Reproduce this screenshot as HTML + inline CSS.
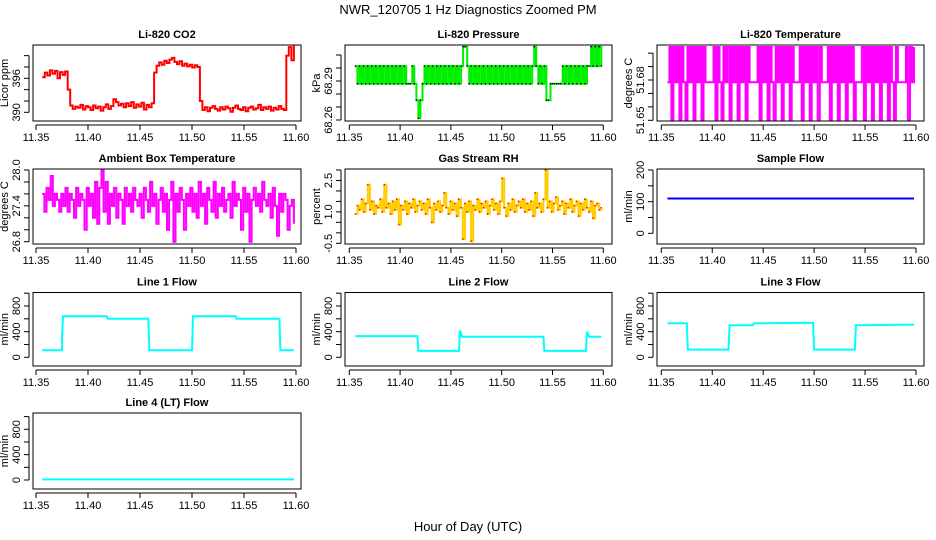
<!DOCTYPE html>
<html><head><meta charset="utf-8"><style>
body{margin:0;background:#fff;}
svg{display:block;font-family:"Liberation Sans",sans-serif;}
</style></head><body>
<svg id="chart" width="936" height="540" viewBox="0 0 936 540">
<rect width="936" height="540" fill="#fff"/>
<text x="468" y="14" text-anchor="middle" font-size="13">NWR_120705  1 Hz Diagnostics Zoomed PM</text>
<text x="468" y="531" text-anchor="middle" font-size="13">Hour of Day (UTC)</text>
</svg>
<script>
// ---- data ----
const tStart = 11.356, tEnd = 11.598;
const xTicks = [11.35, 11.40, 11.45, 11.50, 11.55, 11.60];
const xTickLabels = ["11.35","11.40","11.45","11.50","11.55","11.60"];
const co2Vals = [396.2,397.0,396.5,397.4,396.8,397.3,396.0,397.1,396.6,397.2,394,
391.2,390.6,391.0,390.8,391.3,390.5,391.1,390.9,390.4,391.2,390.7,391.0,390.3,390.9,391.4,390.6,391.1,392.3,391.8,391.2,391.5,390.9,391.6,391.1,391.8,390.8,391.4,391.0,391.7,390.5,391.3,390.9,391.6,
397,398.2,398.8,398.4,399.1,398.7,399.3,399.6,398.9,398.5,399.0,398.2,398.6,398.1,398.4,397.9,398.3,398.0,
392,390.4,390.9,390.2,390.8,391.1,390.6,390.3,390.9,390.5,391.0,390.7,390.1,390.8,391.2,390.6,390.4,390.9,390.2,390.8,391.0,390.5,390.7,391.3,390.4,390.9,390.6,391.0,390.3,390.8,390.5,391.1,390.6,390.4,
400,401.5,399.2,401.8];
const pressLevels = [68.2613, 68.2752, 68.2879, 68.3015, 68.3164];
const pressCodes = "32323232323232323232323232" + "2232" + "101" + "23232323232323232323" + "44" + "323232323232323232323232323232323" + "4" + "32323" + "11" + "22222" + "23232323232323" + "3434343";
const tempLevels = [51.6504, 51.6783, 51.7046];
const tempCodes = "1202120210212021202111120210212021202120211112021202102120212021112021202120211120212021202120111202120212021202102111120212";
const ambientVals = [27.6,27.3,27.7,27.5,27.9,27.4,27.6,27.5,27.3,27.6,27.4,27.7,27.3,27.6,27.5,27.2,27.7,27.4,27.6,27.5,27.0,27.7,27.4,27.6,27.2,27.8,27.1,27.7,28.0,27.3,27.8,27.1,27.6,27.4,27.7,27.2,27.6,27.5,27.1,27.7,27.4,27.6,27.3,27.7,27.5,27.4,27.6,27.2,27.7,27.5,27.3,27.8,27.4,27.6,27.1,27.5,27.7,27.3,27.6,27.0,27.5,27.8,26.8,27.6,27.3,27.7,27.5,27.0,27.6,27.4,27.7,27.3,27.6,27.2,27.8,27.4,27.6,27.1,27.7,27.5,27.3,27.8,27.2,27.6,27.4,27.7,27.3,27.5,27.6,27.2,27.8,27.4,27.6,27.5,27.0,27.7,27.3,27.6,26.8,27.5,27.7,27.4,27.6,27.3,27.8,27.5,27.4,27.6,27.2,27.7,27.4,26.9,27.6,27.3,27.6,27.5,27.0,27.4,27.5,27.1];
const rhVals = [0.9,1.3,1.1,1.6,1.0,1.4,2.3,1.1,1.5,0.9,1.3,1.2,1.6,1.0,2.3,1.2,1.4,0.9,1.5,1.1,1.6,0.4,1.3,1.1,1.5,0.9,1.4,1.2,1.6,1.0,1.3,1.5,1.1,1.4,0.9,1.6,1.2,0.5,1.4,1.1,1.5,1.0,1.3,1.9,1.2,0.9,1.5,1.1,1.4,0.8,1.6,1.2,-0.3,1.4,1.0,1.5,-0.4,1.3,1.1,1.6,1.0,1.4,1.2,1.5,0.9,1.3,1.6,1.1,1.4,0.9,1.5,2.6,1.2,0.8,1.4,1.1,1.6,1.0,1.3,1.5,1.2,1.6,1.0,1.4,1.1,1.5,0.8,1.9,1.2,1.4,1.0,1.6,3.0,1.2,1.5,1.0,1.4,1.7,1.1,1.3,1.5,0.9,1.4,1.2,1.6,1.0,1.3,1.5,0.8,1.4,1.1,1.6,1.2,1.0,1.5,0.7,1.3,1.4,1.1,1.2];
const sampleT = [11.356, 11.598];
const sampleV = [110, 110];
const line1T = [11.356,11.375,11.375,11.376,11.418,11.419,11.458,11.459,11.500,11.501,11.542,11.543,11.584,11.585,11.598];
const line1V = [110,110,280,640,640,600,600,110,110,640,640,600,600,110,110];
const line2T = [11.356,11.417,11.418,11.458,11.459,11.461,11.541,11.542,11.583,11.584,11.586,11.598];
const line2V = [330,330,100,100,420,320,320,100,100,400,320,320];
const line3T = [11.356,11.375,11.376,11.416,11.417,11.440,11.441,11.499,11.500,11.540,11.541,11.598];
const line3V = [530,530,120,120,500,500,530,540,120,120,500,510];
const line4T = [11.356, 11.598];
const line4V = [10, 10];

// ---- layout ----
const NS = "http://www.w3.org/2000/svg";
const svg = document.getElementById('chart');
const cols = [
  {bx0:33, bx1:301, tx0:36, tx1:296},
  {bx0:345, bx1:612, tx0:349.3, tx1:603.3},
  {bx0:657, bx1:924, tx0:661.3, tx1:916}
];
const rows = [{by0:45, by1:121},{by0:169, by1:244},{by0:292.5, by1:366},{by0:413, by1:489}];

function el(tag, attrs, parent){
  const e = document.createElementNS(NS, tag);
  for (const k in attrs) e.setAttribute(k, attrs[k]);
  (parent||svg).appendChild(e);
  return e;
}
function evenTimes(n){ const a=[]; for(let i=0;i<n;i++) a.push(tStart+(tEnd-tStart)*i/(n-1)); return a; }

function panel(cfg){
  const c = cols[cfg.col], r = rows[cfg.row];
  const g = el('g', {});
  
  
  const xs = v => c.tx0 + (v - 11.35) / 0.25 * (c.tx1 - c.tx0);
  const ys = v => cfg.py0 + (v - cfg.v0) / (cfg.v1 - cfg.v0) * (cfg.py1 - cfg.py0);
  // series
  let ptsArr = [];
  cfg.t.forEach((t,i)=>{
    const x = xs(t), y = ys(cfg.v[i]);
    if (cfg.step && i>0){ ptsArr.push(x.toFixed(1)+','+ys(cfg.v[i-1]).toFixed(1)); }
    ptsArr.push(x.toFixed(1)+','+y.toFixed(1));
  });
  const line = el('polyline', {points:ptsArr.join(' '), fill:'none', stroke:cfg.color, 'stroke-width':cfg.lw||2, 'stroke-linejoin':'miter'}, g);
  
  
  if (cfg.dots){
    cfg.t.forEach((t,i)=>{
      const d = el('rect', {x:(xs(t)-0.7).toFixed(1), y:(ys(cfg.v[i])-0.7).toFixed(1), width:1.4, height:1.4, fill:cfg.dots}, g);
      
      
    });
  }
  // box
  const box = el('rect', {x:c.bx0, y:r.by0, width:c.bx1-c.bx0, height:r.by1-r.by0, fill:'none', stroke:'#000', 'stroke-width':1}, g);
  
  
  // x axis
  const ax = el('line', {x1:xs(11.35), x2:xs(11.60), y1:r.by1+4, y2:r.by1+4, stroke:'#000'}, g);
  
  
  xTicks.forEach((tv,i)=>{
    el('line', {x1:xs(tv), x2:xs(tv), y1:r.by1+4, y2:r.by1+9, stroke:'#000'}, g);
    const tl = el('text', {x:xs(tv), y:r.by1+20, 'text-anchor':'middle', 'font-size':11}, g);
    tl.textContent = xTickLabels[i];
    
    
  });
  // y axis
  const yax = c.bx0 - 4;
  const ya = el('line', {x1:yax, x2:yax, y1:ys(cfg.yticks[0]), y2:ys(cfg.yticks[cfg.yticks.length-1]), stroke:'#000'}, g);
  
  
  cfg.yticks.forEach(tv=>{
    el('line', {x1:yax-5, x2:yax, y1:ys(tv), y2:ys(tv), stroke:'#000'}, g);
  });
  cfg.ylabels.forEach((lab,i)=>{
    const yy = ys(cfg.ylabelVals[i]);
    const tl = el('text', {x:0, y:0, 'text-anchor':'middle', 'font-size':11, transform:`translate(${yax-9},${yy}) rotate(-90)`}, g);
    tl.textContent = lab;
    
    
  });
  const yt = el('text', {x:0, y:0, 'text-anchor':'middle', 'font-size':11, transform:`translate(${yax-21},${(r.by0+r.by1)/2}) rotate(-90)`}, g);
  yt.textContent = cfg.ylab;
  
  
  const tt = el('text', {x:(c.bx0+c.bx1)/2, y:r.by0-7, 'text-anchor':'middle', 'font-size':11, 'font-weight':'bold'}, g);
  tt.textContent = cfg.title;
  
  
}

const flowTicks = [0,200,400,600,800,1000];
panel({name:'co2', col:0,row:0,title:'Li-820 CO2',ylab:'Licor ppm',color:'#ff0000',step:true,
  t:evenTimes(co2Vals.length), v:co2Vals, v0:390,py0:112.3,v1:396,py1:78.3,
  yticks:[390,392,394,396,398,400], ylabels:['390','396'], ylabelVals:[390,396]});
panel({name:'pressure', col:1,row:0,title:'Li-820 Pressure',ylab:'kPa',color:'#00ee00',dots:'#000',lw:2,step:true,
  t:evenTimes(pressCodes.length), v:pressCodes.split('').map(ch=>pressLevels[+ch]), v0:68.26,py0:120,v1:68.29,py1:81,
  yticks:[68.26,68.27,68.28,68.29,68.30,68.31], ylabels:['68.26','68.29'], ylabelVals:[68.26,68.29]});
panel({name:'temperature', col:2,row:0,title:'Li-820 Temperature',ylab:'degrees C',color:'#ff00ff',lw:2,step:true,
  t:evenTimes(tempCodes.length), v:tempCodes.split('').map(ch=>tempLevels[+ch]), v0:51.65,py0:120.3,v1:51.68,py1:80,
  yticks:[51.65,51.66,51.67,51.68,51.69,51.70], ylabels:['51.65','51.68'], ylabelVals:[51.65,51.68]});
panel({name:'ambient-temp', col:0,row:1,title:'Ambient Box Temperature',ylab:'degrees C',color:'#ff00ff',step:true,
  t:evenTimes(ambientVals.length), v:ambientVals, v0:26.8,py0:241.7,v1:28.0,py1:170,
  yticks:[26.8,27.0,27.2,27.4,27.6,27.8,28.0], ylabels:['26.8','27.4','28.0'], ylabelVals:[26.8,27.4,28.0]});
panel({name:'gas-rh', col:1,row:1,title:'Gas Stream RH',ylab:'percent',color:'#ffcc00',dots:'#ff0000',lw:2,step:true,
  t:evenTimes(rhVals.length), v:rhVals, v0:-0.5,py0:243.3,v1:3.0,py1:170,
  yticks:[-0.5,0,0.5,1.0,1.5,2.0,2.5,3.0], ylabels:['-0.5','1.0','2.5'], ylabelVals:[-0.5,1.0,2.5]});
panel({name:'sample-flow', col:2,row:1,title:'Sample Flow',ylab:'ml/min',color:'#0000ff',
  t:sampleT, v:sampleV, v0:0,py0:233.3,v1:200,py1:170,
  yticks:[0,50,100,150,200], ylabels:['0','100','200'], ylabelVals:[0,100,200]});
panel({name:'line1-flow', col:0,row:2,title:'Line 1 Flow',ylab:'ml/min',color:'#00ffff',
  t:line1T, v:line1V, v0:0,py0:357.3,v1:800,py1:306,
  yticks:flowTicks, ylabels:['0','400','800'], ylabelVals:[0,400,800]});
panel({name:'line2-flow', col:1,row:2,title:'Line 2 Flow',ylab:'ml/min',color:'#00ffff',
  t:line2T, v:line2V, v0:0,py0:357.3,v1:800,py1:306,
  yticks:flowTicks, ylabels:['0','400','800'], ylabelVals:[0,400,800]});
panel({name:'line3-flow', col:2,row:2,title:'Line 3 Flow',ylab:'ml/min',color:'#00ffff',
  t:line3T, v:line3V, v0:0,py0:357.3,v1:800,py1:306,
  yticks:flowTicks, ylabels:['0','400','800'], ylabelVals:[0,400,800]});
panel({name:'line4-flow', col:0,row:3,title:'Line 4 (LT) Flow',ylab:'ml/min',color:'#00ffff',
  t:line4T, v:line4V, v0:0,py0:480,v1:800,py1:429.3,
  yticks:flowTicks, ylabels:['0','400','800'], ylabelVals:[0,400,800]});
</script>
</body></html>
